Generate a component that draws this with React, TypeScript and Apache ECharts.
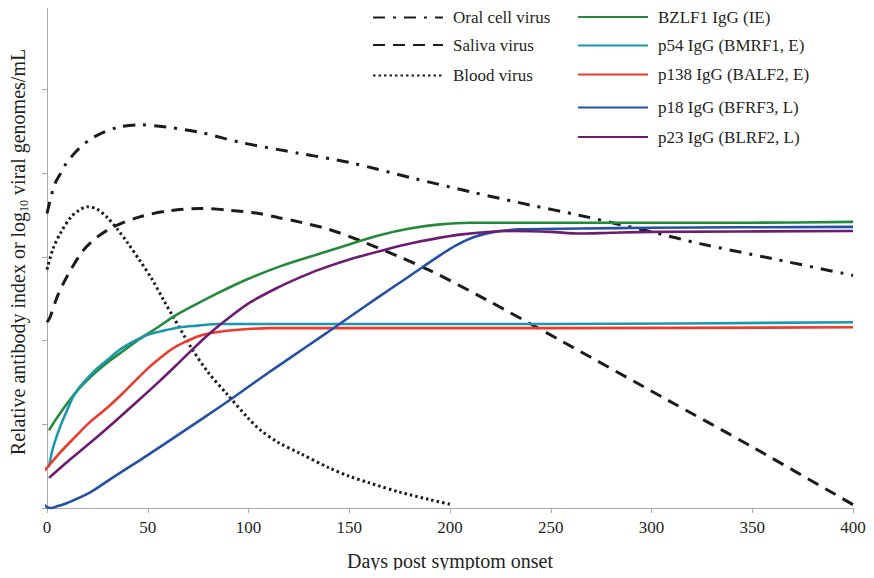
import React, { useEffect, useRef } from "react";
import * as echarts from "echarts";

// Virus load curves (log10 viral genomes/mL), day -> value
const ORAL_DAYS = [0, 2, 4, 6.5, 9, 11.5, 16, 23, 35, 46, 60, 76, 96, 125, 150, 182, 210, 240, 264, 300, 324, 360, 400];
const ORAL_VALUES = [3.52, 3.72, 3.88, 3.99, 4.1, 4.18, 4.3, 4.43, 4.55, 4.58, 4.55, 4.49, 4.37, 4.24, 4.13, 3.94, 3.78, 3.62, 3.5, 3.3, 3.16, 2.98, 2.78];

const SALIVA_DAYS = [0, 1.5, 5, 10, 18, 25, 33, 46, 60, 76, 90, 105, 115, 125, 140, 155, 175, 190, 218, 255, 308, 350, 400];
const SALIVA_VALUES = [2.22, 2.28, 2.52, 2.77, 3.08, 3.24, 3.36, 3.48, 3.55, 3.58, 3.56, 3.52, 3.47, 3.42, 3.33, 3.2, 3.0, 2.84, 2.49, 2.0, 1.29, 0.73, 0.04];

const BLOOD_DAYS = [0, 3, 7, 12, 16, 20, 25, 30, 35, 40, 46, 52, 58, 63, 72, 80, 89, 100, 106, 115, 125, 140, 150, 160, 175, 190, 201];
const BLOOD_VALUES = [2.85, 3.1, 3.3, 3.48, 3.56, 3.6, 3.57, 3.47, 3.33, 3.17, 2.96, 2.74, 2.48, 2.27, 1.9, 1.62, 1.37, 1.07, 0.93, 0.78, 0.66, 0.48, 0.38, 0.3, 0.19, 0.1, 0.04];

// Relative antibody index curves
const BZLF1_DAYS = [1, 5, 10, 16, 20, 25, 30, 38, 46, 55, 63, 72, 84, 100, 117, 134, 150, 165, 180, 195, 210, 250, 300, 350, 400];
const BZLF1_VALUES = [0.93, 1.08, 1.25, 1.43, 1.53, 1.64, 1.74, 1.88, 2.02, 2.16, 2.29, 2.41, 2.56, 2.74, 2.9, 3.03, 3.15, 3.26, 3.34, 3.39, 3.41, 3.41, 3.41, 3.41, 3.42];

const P54_DAYS = [1, 3, 6.5, 10, 13, 16, 20, 25, 30, 36, 43, 50, 58, 66, 75, 85, 150, 250, 400];
const P54_VALUES = [0.5, 0.72, 0.97, 1.17, 1.33, 1.44, 1.55, 1.67, 1.77, 1.89, 1.99, 2.07, 2.12, 2.16, 2.18, 2.2, 2.2, 2.2, 2.22];

const P138_DAYS = [-2, 0, 6, 14, 21, 30, 38, 45, 51, 56, 62, 68, 76, 84, 95, 110, 150, 250, 400];
const P138_VALUES = [0.43, 0.48, 0.65, 0.85, 1.02, 1.2, 1.38, 1.55, 1.69, 1.79, 1.9, 1.98, 2.06, 2.1, 2.13, 2.15, 2.15, 2.15, 2.16];

const P18_DAYS = [-2, 0, 2, 5, 10, 21, 33, 46, 58, 71, 84, 96, 110, 121, 135, 150, 165, 178, 187, 195, 203, 212, 222, 235, 265, 300, 400];
const P18_VALUES = [0.06, 0.01, 0.0, 0.02, 0.06, 0.18, 0.37, 0.57, 0.76, 0.97, 1.18, 1.38, 1.62, 1.8, 2.03, 2.28, 2.53, 2.74, 2.89, 3.02, 3.14, 3.24, 3.3, 3.33, 3.34, 3.35, 3.36];

const P23_DAYS = [1, 10, 21, 33, 46, 56, 66, 79, 89, 101, 115, 125, 134, 150, 165, 182, 206, 231, 250, 264, 280, 300, 400];
const P23_VALUES = [0.36, 0.55, 0.77, 1.02, 1.3, 1.52, 1.75, 2.05, 2.25, 2.46, 2.64, 2.75, 2.84, 2.97, 3.07, 3.17, 3.27, 3.31, 3.3, 3.28, 3.29, 3.3, 3.31];

const X_TICKS = { min: 0, max: 400, interval: 50 };
const Y_TICKS = { min: 0, max: 6, interval: 1 };

const FONT = "'Liberation Serif', 'Times New Roman', serif";
const TEXT_COLOR = "#231f20";
const AXIS_COLOR = "#a8a8a8";

const pairs = (days: number[], values: number[]) => days.map((d, i) => [d, values[i]]);

type SeriesDef = {
  name: string;
  days: number[];
  values: number[];
  color: string;
  width: number;
  dash: number[] | "solid";
  legendLeft: number;
  legendCenter: number;
};

const SERIES: SeriesDef[] = [
  { name: "Oral cell virus", days: ORAL_DAYS, values: ORAL_VALUES, color: "#1c1c1c", width: 3, dash: [12, 8, 3, 8], legendLeft: 372, legendCenter: 18 },
  { name: "Saliva virus", days: SALIVA_DAYS, values: SALIVA_VALUES, color: "#1c1c1c", width: 3, dash: [12, 8], legendLeft: 372, legendCenter: 45.5 },
  { name: "Blood virus", days: BLOOD_DAYS, values: BLOOD_VALUES, color: "#1c1c1c", width: 3, dash: [2.5, 3], legendLeft: 372, legendCenter: 76 },
  { name: "BZLF1 IgG (IE)", days: BZLF1_DAYS, values: BZLF1_VALUES, color: "#23893b", width: 2.6, dash: "solid", legendLeft: 577, legendCenter: 17.5 },
  { name: "p54 IgG (BMRF1, E)", days: P54_DAYS, values: P54_VALUES, color: "#1b98ad", width: 2.6, dash: "solid", legendLeft: 577, legendCenter: 46 },
  { name: "p138 IgG (BALF2, E)", days: P138_DAYS, values: P138_VALUES, color: "#ec3b2d", width: 2.6, dash: "solid", legendLeft: 577, legendCenter: 75 },
  { name: "p18 IgG (BFRF3, L)", days: P18_DAYS, values: P18_VALUES, color: "#2450a6", width: 2.6, dash: "solid", legendLeft: 577, legendCenter: 108 },
  { name: "p23 IgG (BLRF2, L)", days: P23_DAYS, values: P23_VALUES, color: "#6c1c72", width: 2.6, dash: "solid", legendLeft: 577, legendCenter: 137.5 },
];

export default function App() {
  const ref = useRef<HTMLDivElement>(null);

  useEffect(() => {
    if (!ref.current) return;
    const chart = echarts.init(ref.current, undefined, { renderer: "svg" });

    const legendHeight = 18;
    const option: any = {
      animation: false,
      backgroundColor: "#ffffff",
      grid: { left: 47, right: 21, top: 6, bottom: 70, containLabel: false },
      legend: SERIES.map((s) => ({
        data: [s.name],
        left: s.legendLeft,
        top: s.legendCenter - legendHeight / 2,
        orient: "vertical",
        padding: 0,
        itemWidth: 70,
        itemHeight: legendHeight,
        selectedMode: false,
        itemStyle: { opacity: 0 },
        textStyle: {
          fontFamily: FONT,
          fontSize: 17,
          color: TEXT_COLOR,
          padding: [0, 0, 0, 5],
        },
      })),
      xAxis: {
        type: "value",
        min: X_TICKS.min,
        max: X_TICKS.max,
        interval: X_TICKS.interval,
        name: "Days post symptom onset",
        nameLocation: "middle",
        nameGap: 43,
        nameTextStyle: { fontFamily: FONT, fontSize: 20, color: TEXT_COLOR },
        axisLine: { show: true, lineStyle: { color: AXIS_COLOR, width: 1 } },
        axisTick: { show: true, length: 5, lineStyle: { color: AXIS_COLOR } },
        axisLabel: { margin: 11, fontFamily: FONT, fontSize: 17, color: TEXT_COLOR },
        splitLine: { show: false },
      },
      yAxis: {
        type: "value",
        min: Y_TICKS.min,
        max: Y_TICKS.max,
        interval: Y_TICKS.interval,
        axisLine: { show: true, lineStyle: { color: AXIS_COLOR, width: 1 } },
        axisTick: { show: true, length: 5, lineStyle: { color: AXIS_COLOR } },
        axisLabel: { show: false },
        splitLine: { show: false },
      },
      graphic: [
        {
          type: "text",
          x: 18,
          y: 252,
          rotation: Math.PI / 2,
          style: {
            text: "Relative antibody index or log{sub|10} viral genomes/mL",
            fontFamily: FONT,
            fontSize: 20,
            lineHeight: 24,
            fill: TEXT_COLOR,
            align: "center",
            verticalAlign: "middle",
            rich: {
              sub: {
                fontFamily: FONT,
                fontSize: 12,
                lineHeight: 12,
                verticalAlign: "bottom",
                fill: TEXT_COLOR,
              },
            },
          },
        },
      ],
      series: SERIES.map((s) => ({
        name: s.name,
        type: "line",
        data: pairs(s.days, s.values),
        showSymbol: false,
        symbol: "none",
        smooth: 0.3,
        clip: false,
        color: s.color,
        lineStyle: { color: s.color, width: s.width, type: s.dash, cap: "butt" },
      })),
    };

    chart.setOption(option);
    return () => chart.dispose();
  }, []);

  return <div ref={ref} style={{ width: 874, height: 578, margin: -8 }} />;
}
